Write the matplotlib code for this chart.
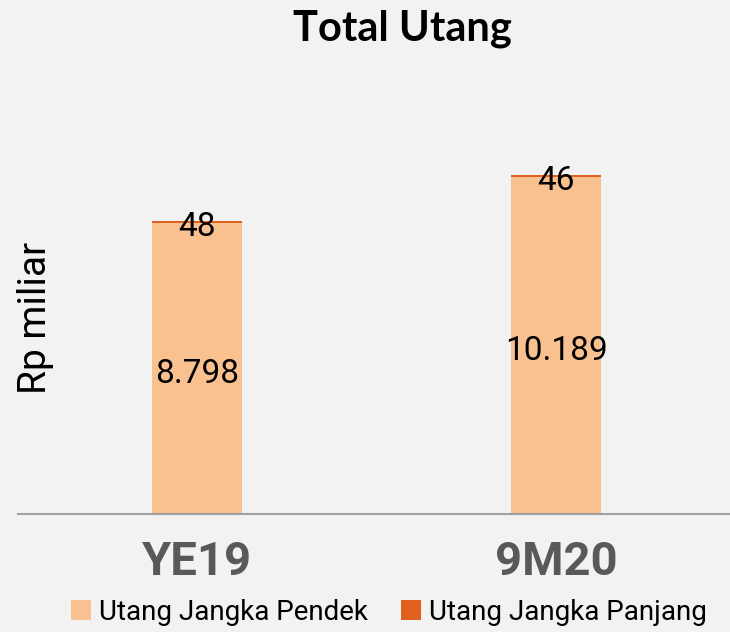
import matplotlib
matplotlib.use("Agg")
import matplotlib.pyplot as plt
from matplotlib.patches import Patch

categories = ["YE19", "9M20"]
short_term = [8798, 10189]
long_term = [48, 46]
short_labels = ["8.798", "10.189"]
long_labels = ["48", "46"]
series_names = ["Utang Jangka Pendek", "Utang Jangka Panjang"]

BG = "#f2f2f2"
C_SHORT = "#f9c18f"
C_LONG = "#e0601f"
COND = ["Roboto", "DejaVu Sans"]

fig = plt.figure(figsize=(7.3, 6.32), dpi=100, facecolor=BG)
ax = fig.add_axes([18 / 730, (632 - 514) / 632, 712 / 730, (514 - 80) / 632], facecolor=BG)

x = list(range(len(categories)))
ax.bar(x, short_term, width=0.25, color=C_SHORT, zorder=2)
ax.bar(x, long_term, width=0.25, bottom=short_term, color=C_LONG, zorder=2)

for xi, s, l, sl, ll in zip(x, short_term, long_term, short_labels, long_labels):
    ax.annotate(sl, (xi, s / 2), xytext=(0, -4), textcoords="offset points",
                ha="center", va="center", fontsize=24, family=COND, color="black", zorder=3)
    ax.annotate(ll, (xi, s + l), xytext=(0, -4), textcoords="offset points",
                ha="center", va="center", fontsize=24, family=COND, color="black", zorder=3)

ax.set_xlim(-0.498, 1.483)
ax.set_ylim(0, 434 / 0.0331)
ax.set_yticks([])
ax.set_xticks(x)
ax.set_xticklabels(categories, fontsize=34, fontweight="bold", family=COND, color="#595959")
ax.tick_params(axis="x", length=0, pad=19)
for s in ["top", "left", "right"]:
    ax.spines[s].set_visible(False)
ax.spines["bottom"].set_color("#a0a0a0")
ax.spines["bottom"].set_linewidth(1.5)

fig.text(35 / 730, 1 - 318 / 632, "Rp miliar", rotation=90, ha="center", va="center",
         fontsize=28, family=COND, color="black")
fig.text(402 / 730, 1 - 29 / 632, "Total Utang", ha="center", va="center",
         fontsize=30, fontweight="bold", family=["Lato", "DejaVu Sans"], color="black")

handles = [Patch(facecolor=C_SHORT), Patch(facecolor=C_LONG)]
fig.legend(handles, series_names, loc="center", bbox_to_anchor=(389 / 730, 1 - 612 / 632),
           ncol=2, frameon=False, prop={"family": COND, "size": 20},
           handlelength=0.7, handleheight=0.7, handletextpad=0.3, columnspacing=1.2)

fig.savefig("out.png", dpi=100, facecolor=BG)
